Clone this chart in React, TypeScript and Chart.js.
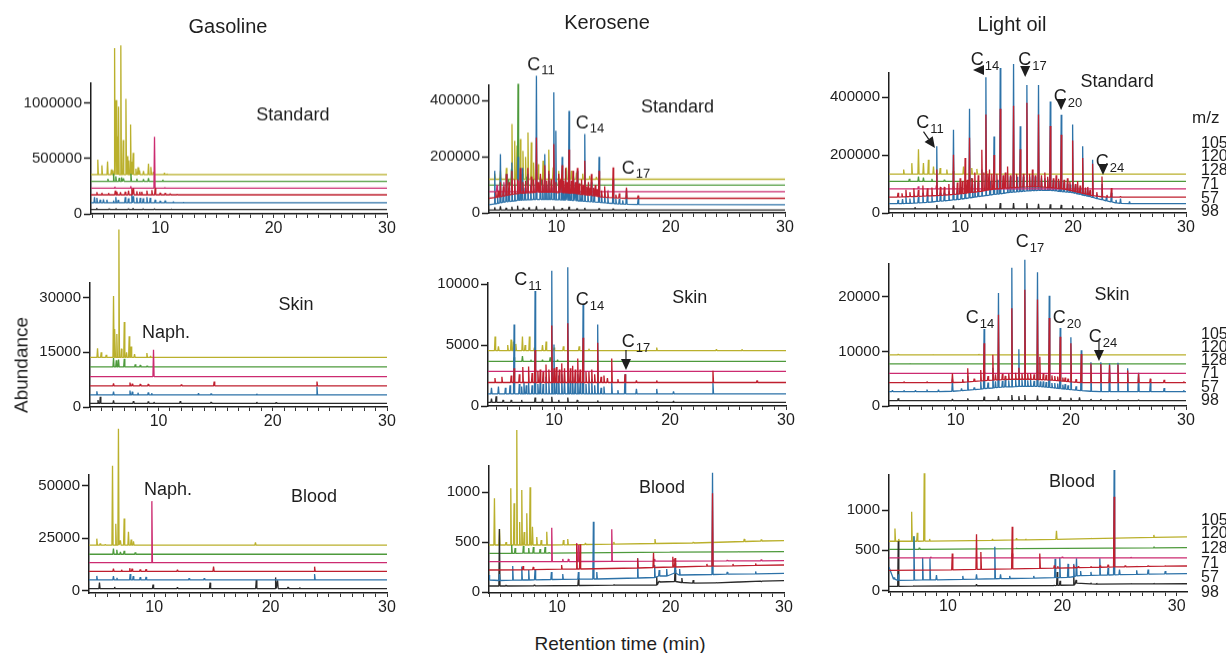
import React, { useEffect, useRef } from 'react';
import { Chart, registerables } from 'chart.js';

Chart.register(...registerables);

type Peak = number[]; // [time, top] or [time, top, low]
type Base = number | [number, number];

const FONT = '"Liberation Sans", Arial, Helvetica, sans-serif';
const MZ_LABELS = ['105', '120', '128', '71', '57', '98'];
const TRACE_COLORS = ['#bab02c', '#4e9a3c', '#cc2b70', '#bf1f2e', '#2d72a8', '#2a2a2a'];
const DRAW_ORDER = [5, 4, 1, 0, 2, 3];
const X_TICK_LABELS = [10, 20, 30];
const COLUMN_TITLES = ['Gasoline', 'Kerosene', 'Light oil'];

// ---------- Gasoline / Standard ----------
const gasStdBase: Base[] = [354000, 293000, 233000, 172000, 100000, 39000];
const gasStdYTicks = [0, 500000, 1000000];
const gasStd105: Peak[] = [[4.5, 490000], [4.86, 438000], [5.36, 474000], [5.7, 400000], [5.83, 393000], [5.98, 1496000], [6.12, 1027000], [6.22, 700000], [6.33, 967000], [6.53, 1520000], [6.74, 665000], [6.98, 1037000], [7.1, 520000], [7.24, 483000], [7.39, 807000], [7.5, 470000], [7.62, 550000], [7.86, 408000], [8.05, 420000], [8.18, 393000], [8.53, 387000], [8.97, 453000], [9.18, 423000], [9.4, 380000], [10.38, 369000], [10.6, 362000]];
const gasStd120: Peak[] = [[5.39, 317000], [5.89, 363000], [6.09, 340000], [6.39, 325000], [6.6, 330000], [6.77, 320000], [7.42, 363000], [7.94, 318000], [8.53, 313000], [8.97, 322000], [10.23, 308000]];
const gasStd128: Peak[] = [[6.0, 245000], [7.4, 250000], [9.5, 695000], [10.4, 240000]];
const gasStd71: Peak[] = [[4.42, 196000], [4.86, 190000], [5.45, 188000], [6.04, 211000], [6.18, 200000], [6.5, 195000], [6.92, 200000], [7.21, 211000], [7.5, 227000], [7.65, 232000], [7.94, 205000], [8.2, 200000], [8.38, 200000], [8.83, 211000], [9.27, 215000], [9.56, 236000], [10.0, 190000], [10.44, 188000], [10.88, 182000], [11.5, 178000]];
const gasStd57: Peak[] = [[4.21, 151000], [4.42, 145000], [4.71, 127000], [5.0, 130000], [5.3, 127000], [5.89, 121000], [6.09, 151000], [6.3, 125000], [6.92, 151000], [7.2, 140000], [7.5, 181000], [7.65, 160000], [7.94, 148000], [8.24, 145000], [8.5, 140000], [8.83, 151000], [9.12, 145000], [9.56, 127000], [10.0, 118000], [10.44, 121000], [11.17, 112000], [12.06, 106000]];
const gasStd98: Peak[] = [[4.4, 52000], [5.5, 48000], [6.1, 50000], [7.2, 48000], [7.6, 52000], [8.5, 46000], [9.5, 45000], [11.0, 44000]];

// ---------- Kerosene / Standard ----------
const keroStdBase: Base[] = [120000, 99000, 76000, 52000, 29000, 10000];
const keroStdYTicks = [0, 200000, 400000];
const keroStd105: Peak[] = [[4.6, 140000], [5.1, 150000], [5.62, 160000], [6.11, 317000], [6.35, 257000], [6.55, 240000], [6.84, 263000], [7.07, 221000], [7.3, 200000], [7.51, 287000], [7.8, 252000], [8.0, 180000], [8.4, 174000], [8.83, 186000], [9.33, 226000], [9.71, 162000], [10.2, 150000], [10.88, 162000], [11.3, 150000], [11.75, 144000], [12.3, 140000], [12.9, 132000], [13.5, 128000]];
const keroStd120: Peak[] = [[5.1, 125000], [5.77, 120000], [6.06, 156000], [6.64, 460000], [7.0, 140000], [7.4, 130000], [7.94, 120000], [8.7, 118000], [9.4, 115000], [10.0, 112000], [10.9, 108000], [12.0, 105000]];
const keroStd128: Peak[] = [[4.8, 100000], [5.4, 110000], [6.1, 120000], [6.7, 115000], [7.3, 105000], [8.0, 100000], [8.8, 98000], [9.6, 96000], [10.6, 92000], [11.8, 88000], [13.0, 84000], [14.5, 80000]];
const keroStd71: Peak[] = [[4.7, 75000, 55000], [4.9, 80000, 56000], [5.1, 110000, 58000], [5.35, 95000, 60000], [5.62, 139000, 62000], [5.85, 110000, 64000], [6.1, 150000, 66000], [6.35, 120000, 68000], [6.6, 120000, 69000], [6.84, 160000, 70000], [7.07, 110000, 70000], [7.3, 115000, 71000], [7.5, 160000, 72000], [7.8, 130000, 72000], [8.0, 120000, 73000], [8.25, 269000, 74000], [8.4, 110000, 74000], [8.6, 140000, 74000], [8.8, 120000, 74000], [8.98, 170000, 74000], [9.15, 115000, 74000], [9.33, 150000, 74000], [9.55, 120000, 74000], [9.77, 245000, 74000], [9.95, 110000, 73000], [10.2, 140000, 72000], [10.35, 120000, 72000], [10.5, 170000, 72000], [10.65, 115000, 72000], [10.8, 160000, 72000], [10.95, 110000, 71000], [11.1, 226000, 70000], [11.3, 115000, 70000], [11.45, 150000, 70000], [11.65, 110000, 69000], [11.83, 160000, 68000], [12.0, 105000, 67000], [12.2, 120000, 66000], [12.35, 100000, 65000], [12.48, 186000, 65000], [12.65, 95000, 64000], [12.8, 110000, 63000], [12.95, 90000, 62000], [13.06, 139000, 62000], [13.25, 90000, 61000], [13.4, 100000, 60000], [13.55, 85000, 59000], [13.73, 150000, 58000], [13.95, 80000, 57000], [14.22, 95000, 56000], [14.5, 75000, 55000], [14.96, 162000, 54000], [15.2, 65000, 53000], [15.5, 70000, 53000], [16.13, 90000, 52000], [17.15, 62000, 52000]];
const keroStd57: Peak[] = [[4.6, 150000, 32000], [4.85, 60000, 34000], [5.1, 210000, 36000], [5.35, 80000, 38000], [5.62, 139000, 40000], [5.85, 90000, 41000], [6.1, 180000, 42000], [6.35, 100000, 43000], [6.64, 200000, 45000], [6.85, 95000, 45000], [7.0, 160000, 46000], [7.25, 90000, 46000], [7.5, 140000, 47000], [7.75, 100000, 47000], [8.0, 85000, 48000], [8.25, 489000, 48000], [8.6, 130000, 48000], [8.8, 95000, 48000], [8.98, 210000, 48000], [9.15, 100000, 48000], [9.33, 140000, 48000], [9.55, 90000, 48000], [9.77, 430000, 48000], [9.95, 293000, 47000], [10.25, 100000, 47000], [10.5, 200000, 46000], [10.65, 95000, 46000], [10.8, 150000, 46000], [10.95, 90000, 46000], [11.1, 364000, 45000], [11.3, 85000, 45000], [11.5, 130000, 44000], [11.65, 90000, 44000], [11.83, 150000, 43000], [12.05, 80000, 43000], [12.25, 85000, 42000], [12.48, 281000, 42000], [12.75, 75000, 41000], [13.06, 110000, 40000], [13.3, 70000, 39000], [13.73, 200000, 38000], [13.95, 65000, 37000], [14.22, 80000, 36000], [14.5, 55000, 35000], [14.96, 120000, 34000], [15.2, 50000, 33000], [15.5, 50000, 32000], [15.8, 45000, 32000], [16.13, 85000, 31000], [17.15, 50000, 30000]];
const keroStd98: Peak[] = [[4.6, 20000], [5.1, 24000], [5.6, 18000], [6.1, 22000], [6.6, 26000], [7.1, 18000], [7.6, 20000], [8.25, 24000], [8.98, 18000], [9.77, 24000], [10.5, 17000], [11.1, 22000], [11.8, 16000], [12.48, 18000], [13.73, 16000], [14.96, 15000], [16.13, 13000]];

// ---------- Light oil / Standard ----------
const lightStdBase: Base[] = [134000, 109000, 83000, 55000, 32000, 14000];
const lightStdYTicks = [0, 200000, 400000];
const lightStd105: Peak[] = [[5.0, 150000], [5.72, 172000], [6.31, 220000], [6.75, 172000], [7.19, 184000], [7.64, 160000], [8.23, 155000], [8.82, 150000], [9.4, 145000], [10.3, 160000], [11.03, 155000], [11.48, 152000], [12.3, 145000], [13.5, 140000]];
const lightStd120: Peak[] = [[5.5, 118000], [6.31, 126000], [6.75, 122000], [7.5, 118000], [8.6, 115000], [11.0, 120000], [12.3, 115000]];
const lightStd128: Peak[] = [[6.3, 92000], [7.9, 95000], [9.4, 92000], [10.8, 90000], [12.3, 88000]];
const lightStd71: Peak[] = [[4.5, 70000, 55000], [4.85, 68000, 55500], [5.2, 80000, 56000], [5.55, 72000, 56500], [5.9, 85000, 57000], [6.3, 80000, 57500], [6.7, 95000, 58000], [7.1, 85000, 59000], [7.5, 88000, 59500], [7.93, 150000, 60000], [8.25, 90000, 61000], [8.6, 90000, 62000], [9.0, 100000, 63000], [9.41, 201000, 64000], [9.75, 105000, 65000], [10.0, 120000, 66000], [10.2, 110000, 67000], [10.44, 190000, 68000], [10.63, 115000, 69000], [10.83, 260000, 70000], [11.05, 120000, 71000], [11.3, 140000, 72000], [11.6, 130000, 73500], [11.92, 218000, 75000], [12.1, 140000, 76500], [12.28, 340000, 78000], [12.45, 135000, 79000], [12.6, 150000, 80000], [12.8, 135000, 81000], [13.0, 200000, 82000], [13.25, 135000, 83000], [13.55, 360000, 84000], [13.8, 130000, 85000], [14.0, 140000, 85500], [14.2, 160000, 86000], [14.45, 130000, 87000], [14.73, 370000, 88000], [15.0, 135000, 88500], [15.32, 220000, 89000], [15.6, 135000, 89500], [15.91, 380000, 90000], [16.15, 135000, 90000], [16.4, 150000, 90000], [16.65, 130000, 90000], [16.94, 340000, 90000], [17.2, 130000, 89500], [17.5, 140000, 89000], [17.75, 125000, 88500], [17.98, 300000, 88000], [18.25, 120000, 87000], [18.5, 130000, 86000], [18.72, 118000, 85000], [18.95, 270000, 84000], [19.2, 115000, 82000], [19.5, 120000, 80000], [19.72, 108000, 78000], [19.96, 250000, 76000], [20.2, 100000, 74000], [20.4, 110000, 72000], [20.62, 95000, 70000], [20.85, 190000, 68000], [21.1, 88000, 66000], [21.3, 90000, 64000], [21.5, 80000, 62000], [21.73, 170000, 60000], [22.1, 72000, 58000], [22.56, 126000, 56000], [23.0, 62000, 55000], [23.39, 86000, 55000], [24.2, 57000, 55000]];
const lightStd57: Peak[] = [[4.5, 45000, 32000], [4.9, 48000, 32500], [5.2, 55000, 33000], [5.55, 50000, 33500], [5.9, 60000, 34000], [6.3, 55000, 35000], [6.7, 70000, 36000], [7.1, 60000, 37000], [7.5, 62000, 38000], [7.93, 230000, 40000], [8.25, 70000, 41000], [8.6, 70000, 42000], [9.0, 75000, 43500], [9.41, 287000, 45000], [9.75, 80000, 46500], [10.1, 90000, 48000], [10.45, 95000, 50000], [10.83, 360000, 52000], [11.1, 100000, 53500], [11.3, 110000, 55000], [11.6, 105000, 56500], [11.92, 150000, 58000], [12.28, 468000, 60000], [12.65, 110000, 62000], [13.0, 264000, 64000], [13.3, 115000, 65000], [13.55, 500000, 66000], [13.85, 120000, 68000], [14.2, 130000, 70000], [14.45, 125000, 71000], [14.73, 514000, 72000], [15.05, 125000, 73000], [15.32, 299000, 74000], [15.6, 125000, 75000], [15.91, 442000, 76000], [16.15, 125000, 76500], [16.4, 130000, 77000], [16.65, 125000, 77500], [16.94, 442000, 78000], [17.2, 120000, 78000], [17.5, 120000, 78000], [17.75, 118000, 78000], [17.98, 385000, 78000], [18.25, 115000, 77000], [18.5, 110000, 76000], [18.75, 108000, 75000], [18.95, 339000, 74000], [19.2, 105000, 73000], [19.5, 100000, 72000], [19.75, 98000, 71000], [19.96, 305000, 70000], [20.2, 95000, 68000], [20.4, 90000, 66000], [20.65, 88000, 64000], [20.85, 230000, 62000], [21.1, 82000, 60000], [21.3, 80000, 58000], [21.5, 75000, 56000], [21.73, 184000, 54000], [22.1, 65000, 50000], [22.56, 100000, 46000], [22.95, 55000, 42000], [23.39, 70000, 38000], [23.8, 45000, 35000], [24.2, 50000, 33000], [25.0, 40000, 32000]];
const lightStd98: Peak[] = [[6.0, 20000], [7.93, 28000], [9.41, 26000], [10.83, 30000], [12.28, 32000], [13.55, 34000], [14.73, 34000], [15.91, 34000], [16.94, 32000], [17.98, 30000], [18.95, 28000], [19.96, 26000], [20.85, 24000], [21.73, 22000], [22.56, 20000], [23.39, 18000]];

// ---------- Gasoline / Skin ----------
const gasSkinBase: Base[] = [13600, 11000, 8350, 5800, 3300, 1000];
const gasSkinYTicks = [0, 15000, 30000];
const gasSkin105: Peak[] = [[4.66, 16100], [4.98, 15000], [5.42, 14300], [6.06, 30400], [6.18, 21400], [6.35, 20000], [6.53, 48700], [6.75, 16000], [7.0, 23300], [7.2, 15000], [7.43, 19400], [7.6, 16600], [7.9, 14500], [8.98, 14800], [9.3, 14000]];
const gasSkin120: Peak[] = [[6.06, 13400], [6.3, 12800], [6.5, 13000], [7.0, 13200], [7.96, 11700], [8.4, 11500], [9.0, 11300]];
const gasSkin128: Peak[] = [[9.56, 15700]];
const gasSkin71: Peak[] = [[6.06, 6500], [7.5, 6700], [7.7, 6400], [8.4, 6300], [9.1, 6300], [12.0, 6200], [14.87, 6970], [23.87, 7000]];
const gasSkin57: Peak[] = [[4.6, 4300], [6.06, 4200], [7.5, 4500], [7.7, 4200], [8.2, 3900], [9.1, 4000], [9.4, 3800], [13.5, 3800], [14.6, 3700], [18.6, 3600], [23.87, 5600]];
const gasSkin98: Peak[] = [[4.7, 1900], [4.9, 2800], [6.06, 1800], [7.8, 1600], [9.1, 1500], [9.6, 1400], [11.9, 1600], [14.6, 1400], [18.6, 1400], [20.3, 1300]];

// ---------- Kerosene / Skin ----------
const keroSkinBase: Base[] = [4550, 3660, 2840, 1930, 1000, 300];
const keroSkinYTicks = [0, 5000, 10000];
const keroSkin105: Peak[] = [[4.91, 5700], [5.2, 4900], [6.0, 5000], [6.29, 5450], [6.49, 5300], [6.7, 5100], [7.27, 5700], [7.5, 5000], [7.87, 5700], [8.3, 4800], [9.0, 5000], [9.31, 5300], [10.0, 4800], [10.8, 4900], [12.16, 4900], [13.0, 4700], [18.85, 4800], [24.0, 4650], [26.2, 4650]];
const keroSkin120: Peak[] = [[6.55, 4000], [7.27, 4100], [8.0, 3800], [9.0, 3800], [9.66, 4000], [10.3, 3800], [11.2, 3750]];
const keroSkin128: Peak[] = [[8.36, 3000], [9.8, 3000], [11.18, 3000]];
const keroSkin71: Peak[] = [[4.9, 2300], [5.5, 2400], [6.3, 2500], [6.55, 3100], [7.0, 2600], [7.3, 3200], [7.8, 3250], [8.1, 2700], [8.36, 4600], [8.6, 2900], [8.8, 3000], [9.05, 2800], [9.3, 3400], [9.55, 3000], [9.8, 6600], [10.0, 3100], [10.2, 3200], [10.45, 3000], [10.66, 3500], [10.9, 3100], [11.18, 6800], [11.4, 3100], [11.6, 3300], [11.82, 3000], [12.04, 3900], [12.24, 3000], [12.5, 5600], [12.75, 2800], [13.0, 2800], [13.25, 3000], [13.5, 2600], [13.76, 5200], [14.05, 2400], [14.3, 2500], [14.6, 2300], [14.97, 3900], [15.5, 2200], [16.12, 2600], [17.1, 2100], [18.85, 2100], [23.7, 2900], [27.5, 2100]];
const keroSkin57: Peak[] = [[4.6, 1500], [5.2, 1600], [5.8, 1500], [6.2, 1700], [6.55, 6700], [7.0, 1800], [7.2, 1600], [7.4, 2000], [7.6, 1700], [7.8, 1900], [8.1, 1700], [8.36, 9450], [8.6, 1800], [8.8, 2000], [9.05, 1800], [9.3, 2400], [9.55, 1900], [9.8, 11100], [9.99, 5040], [10.2, 2000], [10.4, 2500], [10.66, 2600], [10.9, 2100], [11.18, 11400], [11.4, 2100], [11.6, 2400], [11.82, 2000], [12.04, 2600], [12.25, 2000], [12.5, 8350], [12.75, 1800], [13.0, 2000], [13.25, 2200], [13.5, 1700], [13.76, 6700], [14.05, 1500], [14.3, 1600], [14.97, 2000], [15.5, 1300], [16.12, 2600], [17.1, 1400], [18.85, 1400], [20.3, 1200], [23.7, 1900]];
const keroSkin98: Peak[] = [[4.6, 600], [5.0, 800], [5.6, 500], [6.3, 500], [7.2, 500], [8.36, 700], [9.0, 600], [9.8, 750], [10.4, 500], [11.18, 700], [12.0, 500], [13.76, 450], [18.85, 400], [20.3, 400]];

// ---------- Light oil / Skin ----------
const lightSkinBase: Base[] = [9360, 7710, 5990, 4280, 2630, 980];
const lightSkinYTicks = [0, 10000, 20000];
const lightSkin105: Peak[] = [[5.0, 9500], [8.0, 9450], [12.0, 9500], [16.0, 9500], [20.0, 9450]];
const lightSkin120: Peak[] = [[6.0, 7800], [12.5, 7850], [16.0, 7850]];
const lightSkin128: Peak[] = [[12.5, 6200], [16.0, 6300], [17.1, 6200]];
const lightSkin71: Peak[] = [[5.5, 4500], [7.5, 4500], [9.71, 6000, 4300], [10.6, 4900, 4350], [11.04, 6900, 4400], [11.6, 5000, 4500], [12.17, 6600, 4600], [12.46, 11500, 4650], [12.8, 5500, 4700], [13.22, 9400, 4750], [13.45, 5800, 4780], [13.71, 16700, 4800], [14.05, 5900, 4830], [14.3, 5500, 4850], [14.6, 6000, 4870], [14.87, 17900, 4900], [15.2, 6100, 4900], [15.48, 7000, 4900], [15.75, 6000, 4900], [16.0, 21300, 4900], [16.25, 5900, 4900], [16.5, 6000, 4900], [16.8, 5800, 4870], [17.1, 19500, 4850], [17.3, 9000, 4850], [17.6, 6000, 4800], [17.85, 5700, 4780], [18.12, 16100, 4750], [18.35, 5600, 4720], [18.6, 5500, 4700], [18.85, 5400, 4650], [19.07, 12700, 4600], [19.3, 5200, 4550], [19.5, 5200, 4500], [19.75, 5000, 4450], [20.0, 11500, 4400], [20.45, 4900, 4350], [20.9, 9500, 4300], [21.74, 7800, 4280], [22.6, 7700, 4280], [23.36, 7500, 4280], [24.09, 7600, 4280], [24.93, 6500, 4280], [25.88, 5900, 4280], [26.9, 5000, 4280], [28.1, 4800, 4280], [29.8, 4500, 4280]];
const lightSkin57: Peak[] = [[4.5, 2900, 2630], [5.5, 2900, 2630], [6.5, 2900, 2630], [7.5, 3000, 2630], [8.5, 3000, 2650], [9.71, 5000, 2700], [10.5, 3200, 2800], [11.04, 5500, 2900], [11.6, 3400, 3000], [12.17, 4500, 3100], [12.46, 14100, 3200], [12.8, 4300, 3250], [13.22, 7000, 3300], [13.45, 4500, 3350], [13.71, 20700, 3400], [14.05, 4600, 3450], [14.3, 4800, 3500], [14.6, 4700, 3500], [14.87, 25300, 3500], [15.2, 4800, 3550], [15.48, 10400, 3600], [15.75, 4800, 3600], [16.0, 26800, 3600], [16.25, 4700, 3600], [16.5, 4800, 3600], [16.8, 4600, 3600], [17.1, 24500, 3600], [17.35, 4500, 3550], [17.6, 4500, 3500], [17.85, 4400, 3450], [18.12, 20200, 3400], [18.35, 4200, 3350], [18.6, 4200, 3300], [18.85, 4100, 3250], [19.07, 14300, 3200], [19.3, 3900, 3150], [19.5, 4000, 3100], [19.75, 3800, 3050], [20.0, 12600, 3000], [20.45, 3600, 2900], [20.9, 10200, 2800], [21.74, 8000, 2700], [22.6, 8000, 2650], [23.36, 7800, 2630], [24.09, 7900, 2630], [24.93, 6900, 2630], [25.88, 6100, 2630], [26.9, 4300, 2630], [28.1, 3300, 2630], [29.8, 2900, 2630]];
const lightSkin98: Peak[] = [[5.0, 1400], [9.71, 1300], [11.04, 1400], [12.46, 1700], [13.71, 1800], [14.87, 2000], [15.48, 1800], [16.0, 2000], [17.1, 1900], [18.12, 1800], [19.07, 1600], [20.0, 1500], [20.75, 1600], [21.74, 1300], [22.6, 1300], [24.09, 1200], [25.88, 1150]];

// ---------- Gasoline / Blood ----------
const gasBloodBase: Base[] = [21700, 17400, 13400, 9300, 5200, 1100];
const gasBloodYTicks = [0, 25000, 50000];
const gasBlood105: Peak[] = [[5.07, 24800], [5.36, 22500], [5.8, 22000], [6.42, 59400], [6.7, 31900], [6.93, 77000], [7.1, 24000], [7.42, 34300], [7.79, 28000], [8.02, 24400], [8.22, 23500], [18.7, 23000]];
const gasBlood120: Peak[] = [[6.5, 20100], [6.79, 19500], [7.1, 18500], [7.42, 19000], [8.37, 18300]];
const gasBlood128: Peak[] = [[9.8, 42600]];
const gasBlood71: Peak[] = [[6.5, 10500], [7.2, 10000], [7.9, 10800], [8.1, 10500], [8.8, 10200], [9.3, 10300], [12.0, 10000], [15.1, 11500], [23.78, 11500]];
const gasBlood57: Peak[] = [[5.07, 7100], [6.5, 7000], [6.8, 6200], [7.94, 8000], [8.2, 7000], [8.8, 6500], [9.3, 6600], [13.0, 6000], [14.3, 6000], [23.78, 8000]];
const gasBlood98: Peak[] = [[5.3, 3900], [6.6, 1800], [9.9, 3000], [12.0, 1700], [14.8, 3900], [18.77, 5200], [20.43, 6400], [20.6, 5000], [21.5, 1800], [22.5, 1600]];

// ---------- Kerosene / Blood ----------
const keroBloodBase: Base[] = [[470, 513], [387, 403], [303, 313], [220, 270], [120, 187], [60, 113]];
const keroBloodYTicks = [0, 500, 1000];
const keroBlood105: Peak[] = [[4.48, 937, 470], [4.92, 630, 470], [5.5, 500, 470], [5.92, 1037, 470], [6.21, 887, 470], [6.45, 1620, 470], [6.7, 700, 470], [6.89, 1020, 470], [7.1, 600, 470], [7.33, 787, 470], [7.62, 1047, 470], [7.83, 653, 470], [8.21, 550, 470], [8.6, 520, 470], [9.09, 603, 470], [10.56, 520, 472], [10.94, 530, 472], [12.5, 490, 475], [15.0, 500, 478], [18.63, 530, 485], [22.0, 500, 490], [26.5, 530, 505], [28.0, 525, 510]];
const keroBlood120: Peak[] = [[6.0, 470, 387], [6.3, 440, 387], [7.03, 460, 388], [7.5, 440, 388], [7.91, 450, 388], [8.5, 430, 388], [8.94, 450, 388], [9.3, 395, 388], [20.0, 400, 398], [26.0, 405, 402]];
const keroBlood128: Peak[] = [[9.53, 643, 303], [10.5, 330, 304], [11.0, 330, 304], [11.73, 490, 305], [11.9, 470, 305], [14.82, 627, 306], [18.6, 330, 308], [20.3, 330, 309], [25.0, 320, 311], [28.0, 325, 312]];
const keroBlood71: Peak[] = [[7.0, 260, 222], [7.9, 250, 224], [10.4, 270, 228], [11.73, 480, 230], [12.03, 477, 230], [17.1, 337, 240], [18.5, 393, 245], [20.2, 353, 250], [20.4, 340, 250], [23.2, 280, 258], [23.7, 987, 258], [25.5, 280, 262], [27.5, 285, 266]];
const keroBlood57: Peak[] = [[4.0, 170, 120], [4.92, 180, 115], [6.09, 260, 118], [6.89, 255, 120], [7.5, 220, 120], [8.06, 230, 122], [9.5, 200, 125], [10.5, 180, 126], [11.88, 200, 128], [13.2, 703, 130], [13.5, 200, 130], [17.1, 337, 140], [18.6, 270, 145], [19.0, 220, 160], [19.66, 230, 160], [20.4, 287, 190], [20.8, 230, 170], [23.7, 1193, 175], [25.0, 200, 178], [27.5, 205, 182]];
const keroBlood98: Peak[] = [[4.92, 630, 60], [5.5, 70, 60], [8.0, 72, 62], [11.88, 137, 65], [15.0, 75, 68], [18.78, 153, 70], [19.0, 110, 100], [20.4, 220, 105], [21.0, 140, 95], [22.0, 120, 88], [24.0, 95, 92], [26.0, 100, 100], [28.0, 105, 108]];

// ---------- Light oil / Blood ----------
const lightBloodBase: Base[] = [[612, 667], [512, 533], [404, 404], [250, 304], [290, 208], [50, 83]];
const lightBloodYTicks = [0, 500, 1000];
const lightBlood105: Peak[] = [[5.37, 771, 612], [5.7, 640, 612], [6.83, 979, 612], [7.32, 717, 612], [7.93, 1458, 614], [8.4, 640, 614], [13.9, 640, 622], [16.0, 650, 628], [16.8, 640, 630], [19.49, 742, 636], [22.5, 650, 645], [28.0, 690, 660]];
const lightBlood120: Peak[] = [[7.03, 675, 512], [7.5, 530, 512], [16.0, 525, 520], [28.0, 545, 530]];
const lightBlood128: Peak[] = [[8.5, 420, 404], [15.62, 460, 404], [20.0, 420, 404], [26.0, 415, 404]];
const lightBlood71: Peak[] = [[10.38, 458, 255], [12.5, 700, 262], [12.88, 479, 262], [15.62, 792, 268], [18.03, 458, 274], [19.3, 310, 278], [19.6, 300, 278], [21.0, 310, 282], [21.4, 300, 283], [22.5, 300, 286], [23.3, 310, 288], [24.0, 320, 290], [24.53, 1167, 292], [25.5, 310, 294], [26.5, 300, 296], [27.5, 310, 298], [29.0, 305, 302]];
const lightBlood57: Peak[] = [[5.3, 160, 140], [5.66, 200, 125], [7.03, 675, 128], [7.79, 405, 130], [8.43, 400, 130], [9.0, 190, 132], [11.3, 180, 138], [12.5, 200, 140], [14.1, 542, 145], [14.6, 200, 146], [15.4, 180, 148], [17.5, 180, 154], [19.37, 395, 158], [19.78, 410, 160], [20.5, 330, 162], [21.0, 330, 170], [21.24, 400, 180], [21.6, 240, 185], [22.5, 230, 188], [23.28, 400, 190], [24.0, 280, 192], [24.53, 1500, 194], [25.0, 260, 196], [26.5, 250, 200], [27.5, 260, 203], [29.0, 240, 206]];
const lightBlood98: Peak[] = [[5.66, 612, 50], [7.0, 60, 52], [12.5, 75, 58], [19.3, 65, 60], [19.55, 230, 62], [19.8, 120, 64], [21.0, 170, 65], [21.2, 130, 90], [22.5, 95, 80], [23.0, 90, 78], [26.0, 85, 80], [28.0, 88, 82]];

// ---------- Annotations (data coordinates) ----------
type Note = { t: number; v: number; text: string; sub?: string };
type Arrow = { t: number; v: number; angle: number; stem?: number };
const gasStdNotes: Note[] = [{ t: 21.7, v: 889000, text: 'Standard' }];
const keroStdNotes: Note[] = [{ t: 8.65, v: 527000, text: 'C', sub: '11' }, { t: 12.94, v: 320000, text: 'C', sub: '14' }, { t: 16.96, v: 159000, text: 'C', sub: '17' }, { t: 20.6, v: 377000, text: 'Standard' }];
const lightStdNotes: Note[] = [{ t: 7.33, v: 310000, text: 'C', sub: '11' }, { t: 12.2, v: 528000, text: 'C', sub: '14' }, { t: 16.4, v: 528000, text: 'C', sub: '17' }, { t: 19.55, v: 400000, text: 'C', sub: '20' }, { t: 23.27, v: 176000, text: 'C', sub: '24' }, { t: 23.9, v: 452000, text: 'Standard' }];
const lightStdArrows: Arrow[] = [{ t: 7.77, v: 224000, angle: 55, stem: 9 }, { t: 11.14, v: 493000, angle: 180 }, { t: 15.76, v: 469000, angle: 90 }, { t: 18.94, v: 355000, angle: 90 }, { t: 22.65, v: 131000, angle: 90 }];
const gasSkinNotes: Note[] = [{ t: 22.04, v: 27970, text: 'Skin' }, { t: 10.65, v: 20300, text: 'Naph.' }];
const keroSkinNotes: Note[] = [{ t: 7.75, v: 10350, text: 'C', sub: '11' }, { t: 13.09, v: 8700, text: 'C', sub: '14' }, { t: 17.06, v: 5250, text: 'C', sub: '17' }, { t: 21.7, v: 8870, text: 'Skin' }];
const keroSkinArrows: Arrow[] = [{ t: 16.2, v: 2960, angle: 90, stem: 9 }];
const lightSkinNotes: Note[] = [{ t: 12.1, v: 16100, text: 'C', sub: '14' }, { t: 16.45, v: 30000, text: 'C', sub: '17' }, { t: 19.67, v: 16100, text: 'C', sub: '20' }, { t: 22.79, v: 12600, text: 'C', sub: '24' }, { t: 23.57, v: 20300, text: 'Skin' }];
const lightSkinArrows: Arrow[] = [{ t: 22.44, v: 8240, angle: 90, stem: 9 }];
const gasBloodNotes: Note[] = [{ t: 11.19, v: 47900, text: 'Naph.' }, { t: 23.73, v: 44600, text: 'Blood' }];
const keroBloodNotes: Note[] = [{ t: 19.24, v: 1040, text: 'Blood' }];
const lightBloodNotes: Note[] = [{ t: 20.85, v: 1350, text: 'Blood' }];

// ---------- Layout (pixels) ----------
const Y_AXIS_W = 90;
const X_AXIS_H = 25;
const PAD_R = 14;
const ROW_CANVAS_TOP = [30, 225, 420];
const MZ_ROW_Y = [[143, 156, 170, 184, 198, 211], [334, 347, 360, 373, 387, 400], [520, 533, 548, 563, 577, 592]];

interface PanelDef {
  key: string; row: number;
  bases: Base[]; peaks: Peak[][];
  xMin: number; xMax: number; yMin: number; yMax: number; yTicks: number[];
  notes: Note[]; arrows: Arrow[];
  box: { left: number; top: number; right: number; bottom: number };
}

const PANELS: PanelDef[] = [
  { key: 'gasStd', row: 0, bases: gasStdBase, peaks: [gasStd105, gasStd120, gasStd128, gasStd71, gasStd57, gasStd98], xMin: 3.9, xMax: 30, yMin: 0, yMax: 1178000, yTicks: gasStdYTicks, notes: gasStdNotes, arrows: [], box: { left: 91, top: 83, right: 387, bottom: 213.5 } },
  { key: 'keroStd', row: 0, bases: keroStdBase, peaks: [keroStd105, keroStd120, keroStd128, keroStd71, keroStd57, keroStd98], xMin: 4.1, xMax: 30, yMin: 0, yMax: 455000, yTicks: keroStdYTicks, notes: keroStdNotes, arrows: [], box: { left: 489, top: 85, right: 785, bottom: 212.5 } },
  { key: 'lightStd', row: 0, bases: lightStdBase, peaks: [lightStd105, lightStd120, lightStd128, lightStd71, lightStd57, lightStd98], xMin: 3.7, xMax: 30, yMin: 0, yMax: 483000, yTicks: lightStdYTicks, notes: lightStdNotes, arrows: lightStdArrows, box: { left: 889, top: 73, right: 1186, bottom: 213 } },
  { key: 'gasSkin', row: 1, bases: gasSkinBase, peaks: [gasSkin105, gasSkin120, gasSkin128, gasSkin71, gasSkin57, gasSkin98], xMin: 4.0, xMax: 30, yMin: 0, yMax: 34000, yTicks: gasSkinYTicks, notes: gasSkinNotes, arrows: [], box: { left: 90, top: 283, right: 387, bottom: 407 } },
  { key: 'keroSkin', row: 1, bases: keroSkinBase, peaks: [keroSkin105, keroSkin120, keroSkin128, keroSkin71, keroSkin57, keroSkin98], xMin: 4.3, xMax: 30, yMin: 0, yMax: 10100, yTicks: keroSkinYTicks, notes: keroSkinNotes, arrows: keroSkinArrows, box: { left: 488, top: 283, right: 786, bottom: 406 } },
  { key: 'lightSkin', row: 1, bases: lightSkinBase, peaks: [lightSkin105, lightSkin120, lightSkin128, lightSkin71, lightSkin57, lightSkin98], xMin: 4.2, xMax: 30, yMin: 0, yMax: 26000, yTicks: lightSkinYTicks, notes: lightSkinNotes, arrows: lightSkinArrows, box: { left: 889, top: 264, right: 1186, bottom: 406 } },
  { key: 'gasBlood', row: 2, bases: gasBloodBase, peaks: [gasBlood105, gasBlood120, gasBlood128, gasBlood71, gasBlood57, gasBlood98], xMin: 4.4, xMax: 30, yMin: -1000, yMax: 55000, yTicks: gasBloodYTicks, notes: gasBloodNotes, arrows: [], box: { left: 89, top: 475, right: 387, bottom: 593 } },
  { key: 'keroBlood', row: 2, bases: keroBloodBase, peaks: [keroBlood105, keroBlood120, keroBlood128, keroBlood71, keroBlood57, keroBlood98], xMin: 4.0, xMax: 30, yMin: -10, yMax: 1260, yTicks: keroBloodYTicks, notes: keroBloodNotes, arrows: [], box: { left: 489, top: 466, right: 784, bottom: 593 } },
  { key: 'lightBlood', row: 2, bases: lightBloodBase, peaks: [lightBlood105, lightBlood120, lightBlood128, lightBlood71, lightBlood57, lightBlood98], xMin: 4.85, xMax: 30.9, yMin: -20, yMax: 1437, yTicks: lightBloodYTicks, notes: lightBloodNotes, arrows: [], box: { left: 889, top: 475, right: 1187, bottom: 592 } },
];

const SPIKE_HALF_WIDTH = 0.05;

function tracePoints(base: Base, peaks: Peak[], xMin: number, xMax: number) {
  const b0 = Array.isArray(base) ? base[0] : base;
  const b1 = Array.isArray(base) ? base[1] : base;
  const pts: { x: number; y: number }[] = [{ x: xMin, y: b0 }];
  const sorted = [...peaks].sort((a, b) => a[0] - b[0]);
  for (const p of sorted) {
    const low = p.length > 2 ? p[2] : b0;
    pts.push({ x: p[0] - SPIKE_HALF_WIDTH, y: low }, { x: p[0], y: p[1] }, { x: p[0] + SPIKE_HALF_WIDTH, y: low });
  }
  pts.push({ x: xMax, y: b1 });
  return pts;
}

function notesPlugin(p: PanelDef) {
  return {
    id: 'notes_' + p.key,
    afterDatasetsDraw(chart: any) {
      const ctx: CanvasRenderingContext2D = chart.ctx;
      const xs = chart.scales.x;
      const ys = chart.scales.y;
      ctx.save();
      ctx.fillStyle = '#1e1e1e';
      ctx.strokeStyle = '#1e1e1e';
      ctx.textBaseline = 'middle';
      ctx.textAlign = 'left';
      for (const n of p.notes) {
        const cx = xs.getPixelForValue(n.t);
        const cy = ys.getPixelForValue(n.v);
        ctx.font = `18px ${FONT}`;
        const wm = ctx.measureText(n.text).width;
        let ws = 0;
        if (n.sub) {
          ctx.font = `13px ${FONT}`;
          ws = ctx.measureText(n.sub).width + 1;
        }
        const x0 = cx - (wm + ws) / 2;
        ctx.font = `18px ${FONT}`;
        ctx.fillText(n.text, x0, cy);
        if (n.sub) {
          ctx.font = `13px ${FONT}`;
          ctx.fillText(n.sub, x0 + wm + 1, cy + 6);
        }
      }
      for (const a of p.arrows) {
        const tx = xs.getPixelForValue(a.t);
        const ty = ys.getPixelForValue(a.v);
        const ang = (a.angle * Math.PI) / 180;
        const dx = Math.cos(ang), dy = Math.sin(ang);
        const h = 11, w = 10;
        const bx = tx - dx * h, by = ty - dy * h;
        const nx = -dy, ny = dx;
        ctx.beginPath();
        ctx.moveTo(tx, ty);
        ctx.lineTo(bx + nx * w / 2, by + ny * w / 2);
        ctx.lineTo(bx - nx * w / 2, by - ny * w / 2);
        ctx.closePath();
        ctx.fill();
        if (a.stem) {
          ctx.lineWidth = 1.2;
          ctx.beginPath();
          ctx.moveTo(bx, by);
          ctx.lineTo(bx - dx * a.stem, by - dy * a.stem);
          ctx.stroke();
        }
      }
      ctx.restore();
    },
  };
}

function PanelChart({ p }: { p: PanelDef }) {
  const ref = useRef<HTMLCanvasElement>(null);
  const canvasTop = ROW_CANVAS_TOP[p.row];
  const left = p.box.left - Y_AXIS_W;
  const width = p.box.right + PAD_R - left;
  const height = p.box.bottom + X_AXIS_H - canvasTop;

  useEffect(() => {
    if (!ref.current) return;
    const datasets = p.bases.map((b, i) => ({
      label: 'm/z ' + MZ_LABELS[i],
      data: tracePoints(b, p.peaks[i], p.xMin, p.xMax),
      borderColor: TRACE_COLORS[i],
      backgroundColor: TRACE_COLORS[i],
      borderWidth: 1.3,
      pointRadius: 0,
      fill: false,
      tension: 0,
      borderJoinStyle: 'bevel' as const,
      order: DRAW_ORDER[i],
      clip: { left: 0, top: false, right: 0, bottom: 0 } as any,
    }));
    const chart = new Chart(ref.current, {
      type: 'line',
      data: { datasets },
      plugins: [notesPlugin(p)],
      options: {
        animation: false,
        responsive: false,
        maintainAspectRatio: false,
        devicePixelRatio: 1,
        events: [],
        layout: { padding: { left: 0, top: p.box.top - canvasTop, right: PAD_R, bottom: 0 } },
        plugins: { legend: { display: false }, tooltip: { enabled: false }, title: { display: false } },
        scales: {
          x: {
            type: 'linear',
            min: p.xMin,
            max: p.xMax,
            afterFit: (s: any) => { s.height = X_AXIS_H; },
            afterBuildTicks: (s: any) => {
              const t: { value: number }[] = [];
              for (let v = Math.ceil(p.xMin); v <= Math.floor(p.xMax); v++) t.push({ value: v });
              s.ticks = t;
            },
            ticks: {
              autoSkip: false, maxRotation: 0, minRotation: 0, padding: 1, color: '#1e1e1e',
              font: { family: FONT, size: 16 },
              callback: (v: any) => (X_TICK_LABELS.includes(Number(v)) ? String(v) : ''),
            },
            grid: { drawOnChartArea: false, drawTicks: true, tickLength: 4, tickColor: '#333', tickWidth: 1 },
            border: { display: true, color: '#1e1e1e', width: 1.5 },
          },
          y: {
            type: 'linear',
            min: p.yMin,
            max: p.yMax,
            afterFit: (s: any) => { s.width = Y_AXIS_W; },
            afterBuildTicks: (s: any) => { s.ticks = p.yTicks.map((v) => ({ value: v })); },
            ticks: { autoSkip: false, padding: 2, color: '#1e1e1e', font: { family: FONT, size: 15 }, callback: (v: any) => String(v) },
            grid: { drawOnChartArea: false, drawTicks: true, tickLength: 7, tickColor: '#1e1e1e', tickWidth: 1.5 },
            border: { display: true, color: '#1e1e1e', width: 1.5 },
          },
        },
      } as any,
    });
    return () => chart.destroy();
  }, []);

  return <canvas ref={ref} width={width} height={height} style={{ position: 'absolute', left, top: canvasTop, width, height }} />;
}

const textStyle = (x: number, y: number, size: number, extra: any = {}) => ({
  position: 'absolute' as const, left: x, top: y, fontSize: size, fontFamily: FONT, color: '#1e1e1e',
  lineHeight: 1, whiteSpace: 'nowrap' as const, transform: 'translate(-50%, -50%)', ...extra,
});

const TITLE_POS = [[228, 26], [607, 22], [1012, 24]];

export default function App() {
  return (
    <div style={{ position: 'absolute', left: 0, top: 0, width: 1226, height: 653, background: '#ffffff', overflow: 'hidden', fontFamily: FONT }}>
      {PANELS.map((p) => <PanelChart key={p.key} p={p} />)}
      {COLUMN_TITLES.map((t, i) => (
        <div key={t} style={textStyle(TITLE_POS[i][0], TITLE_POS[i][1], 20)}>{t}</div>
      ))}
      <div style={textStyle(21, 365, 19, { transform: 'translate(-50%, -50%) rotate(-90deg)' })}>Abundance</div>
      <div style={textStyle(620, 643, 19)}>Retention time (min)</div>
      <div style={{ ...textStyle(1192, 117, 17), transform: 'translate(0, -50%)' }}>m/z</div>
      {MZ_ROW_Y.map((row, r) => row.map((y, i) => (
        <div key={r + '_' + i} style={{ ...textStyle(1201, y, 16), transform: 'translate(0, -50%)' }}>{MZ_LABELS[i]}</div>
      )))}
    </div>
  );
}
